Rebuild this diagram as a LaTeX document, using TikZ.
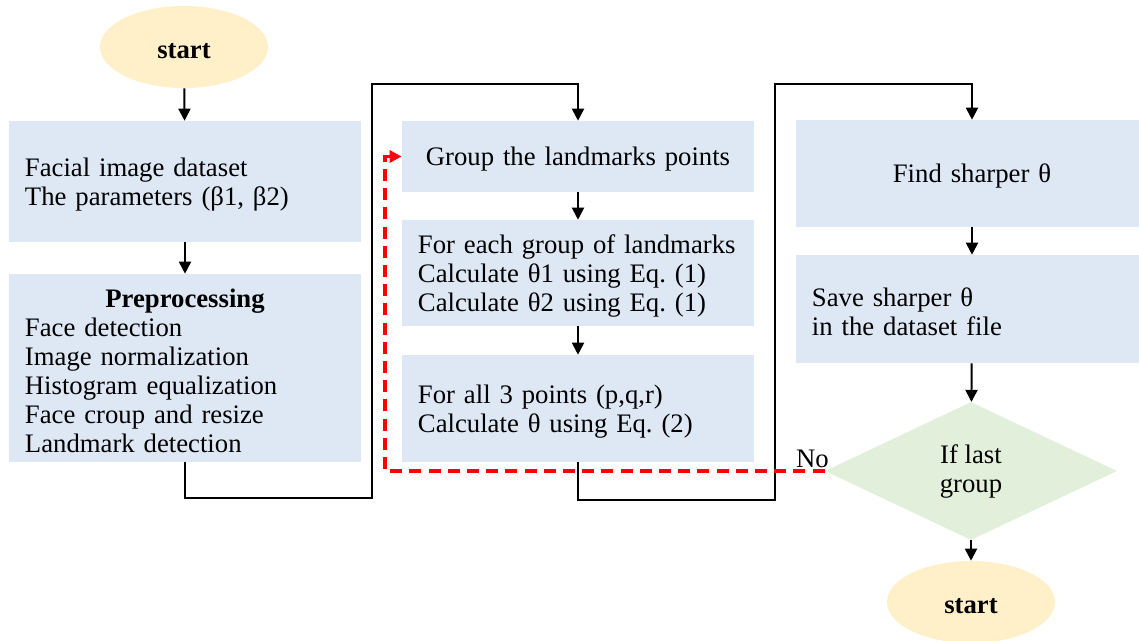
\documentclass[tikz,border=0pt]{standalone}
\usepackage{fontspec}
\setmainfont{Liberation Serif}
\usetikzlibrary{shapes.geometric, arrows.meta}

\definecolor{boxblue}{HTML}{DEE8F5}
\definecolor{ovalyellow}{HTML}{FFF0C9}
\definecolor{diamondgreen}{HTML}{E2EFDA}

\frenchspacing
\newcommand{\boxstrut}{\rule{0pt}{17pt}}

\begin{document}
\begin{tikzpicture}[x=0.025cm, y=-0.025cm, font=\fontsize{19}{20.6}\selectfont]

        % Setup the styles for the shapes
        \tikzset{box style/.style={rectangle,
                                   fill=boxblue,
                                   inner xsep=0.4cm,
                                   text width=8cm,
                                   execute at begin node=\boxstrut,
                                   align=left},
                 oval style/.style={ellipse,
                                    fill=ovalyellow,
                                    minimum width=4.2cm,
                                    minimum height=2.05cm,
                                    execute at begin node=\boxstrut,
                                    font=\fontsize{19}{20.6}\selectfont\bfseries},
                 test style/.style={diamond,
                                    fill=diamondgreen,
                                    inner sep=0pt,
                                    minimum width=7.3cm,
                                    minimum height=3.45cm,
                                    execute at begin node=\boxstrut,
                                    align=center},
                 flow/.style={line width=1.4pt,
                              -{Triangle[length=0.3cm, width=0.3cm]}},
                 back flow/.style={line width=2.8pt,
                                   draw=red,
                                   dash pattern=on 0.3cm off 0.18cm,
                                   -{Triangle[length=0.3cm, width=0.3cm]}}}

        \useasboundingbox (0, 0) rectangle (1139, 640);

        % Draw the first column
        \node[oval style] at (184, 47)          (start)   {start};
        \node[box style, minimum height=3.025cm]
                          at (185, 181.5)       (data)    {Facial image dataset\\
                                                           The parameters (β1, β2)};
        \node[box style, minimum height=4.7cm]
                          at (185, 368)         (prep)    {\makebox[8cm]{\textbf{Preprocessing}}\\
                                                           Face detection\\
                                                           Image normalization\\
                                                           Histogram equalization\\
                                                           Face croup and resize\\
                                                           Landmark detection};

        % Draw the second column
        \node[box style, align=center, minimum height=1.775cm]
                          at (578, 156.5)       (group)   {Group the landmarks points};
        \node[box style, minimum height=2.65cm]
                          at (578, 273)         (each)    {For each group of landmarks\\
                                                           Calculate θ1 using Eq. (1)\\
                                                           Calculate θ2 using Eq. (1)};
        \node[box style, minimum height=2.675cm]
                          at (578, 408.5)       (points)  {For all 3 points (p,q,r)\\
                                                           Calculate θ using Eq. (2)};

        % Draw the third column
        \node[box style, align=center, minimum height=2.675cm]
                          at (972, 173.5)       (find)    {Find sharper θ};
        \node[box style, minimum height=2.7cm]
                          at (972, 309)         (save)    {Save sharper θ\\
                                                           in the dataset file};
        \node[test style] at (971, 471)         (last)    {If last\\ group};
        \node[oval style] at (971, 602)         (stop)    {start};

        % Corners of the connectors
        \coordinate (c1) at (372, 498);
        \coordinate (c2) at (372, 84);
        \coordinate (c3) at (775, 500);
        \coordinate (c4) at (775, 84);
        \coordinate (c5) at (385, 471);

        % Connect the shapes with arrows
        \draw[flow] (start) -- (data);
        \draw[flow] (data) -- (prep);
        \draw[flow] (prep.south) |- (c1) -- (c2) -| (group.north);
        \draw[flow] (group) -- (each);
        \draw[flow] (each) -- (points);
        \draw[flow] (points.south) |- (c3) -- (c4) -| (find.north);
        \draw[flow] (find) -- (save);
        \draw[flow] (save) -- (last);
        \draw[flow] (last) -- (stop);

        % The loop back when the group is not the last one
        \draw[back flow] (last.west) node[above left, xshift=0.15cm, inner xsep=0pt, inner ysep=1pt] {No}
                         -- (c5) |- (group.west);
    \end{tikzpicture}
\end{document}
